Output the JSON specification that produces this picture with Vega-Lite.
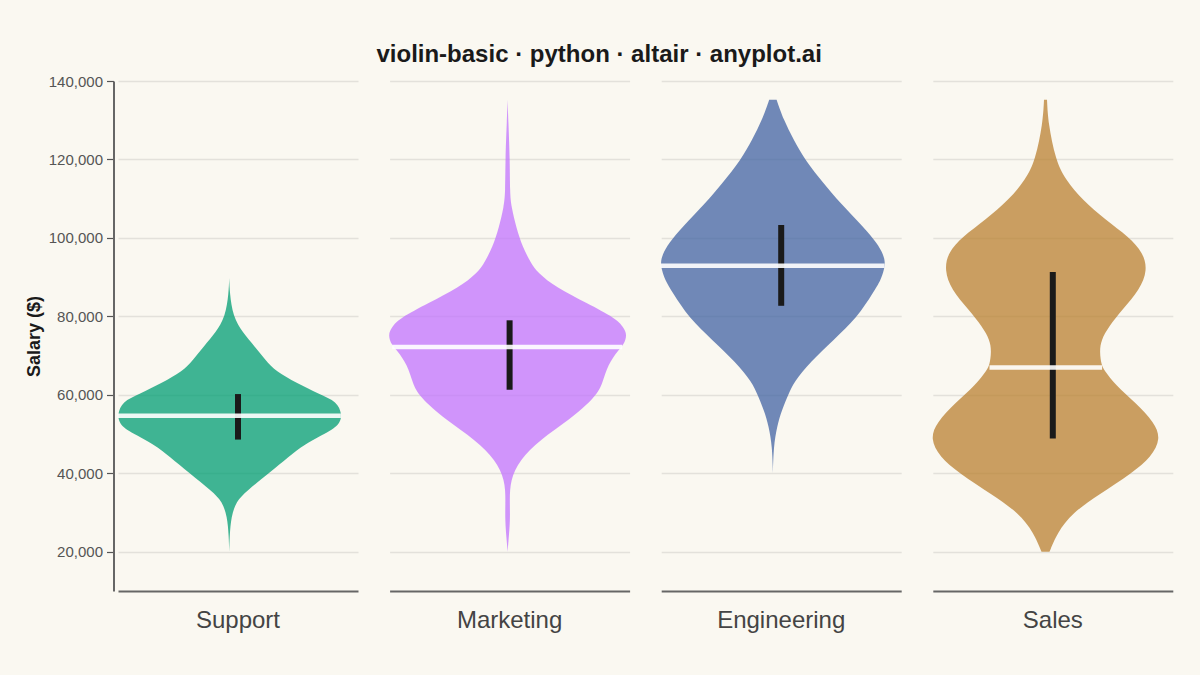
{
  "$schema": "https://vega.github.io/schema/vega-lite/v6.json",
  "background": "#FAF8F1",
  "padding": {"left": 25, "right": 26.5, "top": 43, "bottom": 43},
  "title": {
    "text": "violin-basic · python · altair · anyplot.ai",
    "fontSize": 24,
    "fontWeight": "bold",
    "font": "Liberation Sans",
    "color": "#1A1A1A",
    "anchor": "middle",
    "frame": "bounds",
    "offset": 7
  },
  "config": {
    "font": "Liberation Sans",
    "view": {"stroke": null},
    "axisY": {
      "labelFontSize": 15,
      "labelColor": "#555555",
      "labelPadding": 4,
      "titleFontSize": 18,
      "titleFontWeight": "bold",
      "titleColor": "#1A1A1A",
      "titlePadding": 4.8,
      "domainColor": "#666666",
      "domainWidth": 2,
      "tickColor": "#555555",
      "tickSize": 7,
      "tickWidth": 1.2,
      "grid": true,
      "gridColor": "#1A1A1A",
      "gridOpacity": 0.1,
      "gridWidth": 1.5
    },
    "axisX": {
      "labels": false,
      "ticks": false,
      "grid": false,
      "domain": true,
      "domainColor": "#666666",
      "domainWidth": 2
    }
  },
  "data": {
    "values": [
      {"kind": "violin", "department": "Support", "salary": 20000, "low": -8.8, "high": -8.8},
      {"kind": "violin", "department": "Support", "salary": 24000, "low": -9.2, "high": -8.4},
      {"kind": "violin", "department": "Support", "salary": 29000, "low": -10.8, "high": -6.8},
      {"kind": "violin", "department": "Support", "salary": 32800, "low": -15.8, "high": -1.8},
      {"kind": "violin", "department": "Support", "salary": 35400, "low": -25.8, "high": 8.2},
      {"kind": "violin", "department": "Support", "salary": 40100, "low": -48.8, "high": 31.2},
      {"kind": "violin", "department": "Support", "salary": 44300, "low": -68.8, "high": 51.2},
      {"kind": "violin", "department": "Support", "salary": 47300, "low": -82.8, "high": 65.2},
      {"kind": "violin", "department": "Support", "salary": 51100, "low": -112.8, "high": 95.2},
      {"kind": "violin", "department": "Support", "salary": 53000, "low": -118.8, "high": 102.2},
      {"kind": "violin", "department": "Support", "salary": 55000, "low": -120.5, "high": 103.9},
      {"kind": "violin", "department": "Support", "salary": 58300, "low": -115.8, "high": 99.2},
      {"kind": "violin", "department": "Support", "salary": 60200, "low": -98.8, "high": 81.2},
      {"kind": "violin", "department": "Support", "salary": 63100, "low": -75.8, "high": 58.2},
      {"kind": "violin", "department": "Support", "salary": 65900, "low": -55.8, "high": 38.2},
      {"kind": "violin", "department": "Support", "salary": 68900, "low": -44.8, "high": 27.2},
      {"kind": "violin", "department": "Support", "salary": 72500, "low": -33.8, "high": 16.2},
      {"kind": "violin", "department": "Support", "salary": 75800, "low": -22.5, "high": 4.9},
      {"kind": "violin", "department": "Support", "salary": 80000, "low": -12.5, "high": -5.1},
      {"kind": "violin", "department": "Support", "salary": 86000, "low": -9.3, "high": -8.3},
      {"kind": "violin", "department": "Support", "salary": 89800, "low": -8.8, "high": -8.8},

      {"kind": "violin", "department": "Marketing", "salary": 20000, "low": -2, "high": -2},
      {"kind": "violin", "department": "Marketing", "salary": 22300, "low": -2.7, "high": -1.3},
      {"kind": "violin", "department": "Marketing", "salary": 28150, "low": -4.7, "high": 0.7},
      {"kind": "violin", "department": "Marketing", "salary": 33200, "low": -4, "high": 0},
      {"kind": "violin", "department": "Marketing", "salary": 38300, "low": -4.7, "high": 0.7},
      {"kind": "violin", "department": "Marketing", "salary": 43400, "low": -14, "high": 10},
      {"kind": "violin", "department": "Marketing", "salary": 48500, "low": -34, "high": 30},
      {"kind": "violin", "department": "Marketing", "salary": 53600, "low": -64, "high": 60},
      {"kind": "violin", "department": "Marketing", "salary": 59600, "low": -90.7, "high": 86.7},
      {"kind": "violin", "department": "Marketing", "salary": 63000, "low": -97, "high": 93},
      {"kind": "violin", "department": "Marketing", "salary": 67600, "low": -102, "high": 98},
      {"kind": "violin", "department": "Marketing", "salary": 71500, "low": -113, "high": 109},
      {"kind": "violin", "department": "Marketing", "salary": 72700, "low": -118, "high": 114},
      {"kind": "violin", "department": "Marketing", "salary": 75300, "low": -121.7, "high": 117.7},
      {"kind": "violin", "department": "Marketing", "salary": 77300, "low": -117.7, "high": 113.7},
      {"kind": "violin", "department": "Marketing", "salary": 79400, "low": -110.7, "high": 106.7},
      {"kind": "violin", "department": "Marketing", "salary": 83400, "low": -81, "high": 77},
      {"kind": "violin", "department": "Marketing", "salary": 87300, "low": -51, "high": 47},
      {"kind": "violin", "department": "Marketing", "salary": 91100, "low": -32, "high": 28},
      {"kind": "violin", "department": "Marketing", "salary": 93900, "low": -24.7, "high": 20.7},
      {"kind": "violin", "department": "Marketing", "salary": 97700, "low": -17, "high": 13},
      {"kind": "violin", "department": "Marketing", "salary": 102600, "low": -10.7, "high": 6.7},
      {"kind": "violin", "department": "Marketing", "salary": 108000, "low": -5.7, "high": 1.7},
      {"kind": "violin", "department": "Marketing", "salary": 111500, "low": -4.3, "high": 0.3},
      {"kind": "violin", "department": "Marketing", "salary": 119900, "low": -4.3, "high": 0.3},
      {"kind": "violin", "department": "Marketing", "salary": 130100, "low": -2.7, "high": -1.3},
      {"kind": "violin", "department": "Marketing", "salary": 135200, "low": -2, "high": -2},

      {"kind": "violin", "department": "Engineering", "salary": 40100, "low": -8.3, "high": -8.3},
      {"kind": "violin", "department": "Engineering", "salary": 46800, "low": -9, "high": -7.6},
      {"kind": "violin", "department": "Engineering", "salary": 51900, "low": -12.3, "high": -4.3},
      {"kind": "violin", "department": "Engineering", "salary": 56200, "low": -17.3, "high": 0.7},
      {"kind": "violin", "department": "Engineering", "salary": 60200, "low": -24, "high": 7.4},
      {"kind": "violin", "department": "Engineering", "salary": 63100, "low": -29, "high": 12.4},
      {"kind": "violin", "department": "Engineering", "salary": 68400, "low": -45.6, "high": 29},
      {"kind": "violin", "department": "Engineering", "salary": 74000, "low": -69, "high": 52.4},
      {"kind": "violin", "department": "Engineering", "salary": 79600, "low": -92.3, "high": 75.7},
      {"kind": "violin", "department": "Engineering", "salary": 86200, "low": -109, "high": 92.4},
      {"kind": "violin", "department": "Engineering", "salary": 89300, "low": -116.3, "high": 99.7},
      {"kind": "violin", "department": "Engineering", "salary": 91800, "low": -119.3, "high": 102.7},
      {"kind": "violin", "department": "Engineering", "salary": 93600, "low": -120.6, "high": 104},
      {"kind": "violin", "department": "Engineering", "salary": 95700, "low": -119, "high": 102.4},
      {"kind": "violin", "department": "Engineering", "salary": 98700, "low": -112.3, "high": 95.7},
      {"kind": "violin", "department": "Engineering", "salary": 102800, "low": -99, "high": 82.4},
      {"kind": "violin", "department": "Engineering", "salary": 108900, "low": -75.6, "high": 59},
      {"kind": "violin", "department": "Engineering", "salary": 113900, "low": -59, "high": 42.4},
      {"kind": "violin", "department": "Engineering", "salary": 119900, "low": -40.3, "high": 23.7},
      {"kind": "violin", "department": "Engineering", "salary": 125000, "low": -29, "high": 12.4},
      {"kind": "violin", "department": "Engineering", "salary": 130100, "low": -19, "high": 2.4},
      {"kind": "violin", "department": "Engineering", "salary": 135200, "low": -12, "high": -4.6},

      {"kind": "violin", "department": "Sales", "salary": 20000, "low": -11.3, "high": -3.3},
      {"kind": "violin", "department": "Sales", "salary": 24800, "low": -19, "high": 4.4},
      {"kind": "violin", "department": "Sales", "salary": 29900, "low": -34, "high": 19.4},
      {"kind": "violin", "department": "Sales", "salary": 34500, "low": -60.3, "high": 45.7},
      {"kind": "violin", "department": "Sales", "salary": 40100, "low": -94, "high": 79.4},
      {"kind": "violin", "department": "Sales", "salary": 44200, "low": -113.3, "high": 98.7},
      {"kind": "violin", "department": "Sales", "salary": 48800, "low": -122.6, "high": 108},
      {"kind": "violin", "department": "Sales", "salary": 52900, "low": -116.3, "high": 101.7},
      {"kind": "violin", "department": "Sales", "salary": 58000, "low": -97.3, "high": 82.7},
      {"kind": "violin", "department": "Sales", "salary": 62500, "low": -77.3, "high": 62.7},
      {"kind": "violin", "department": "Sales", "salary": 66400, "low": -65.6, "high": 51},
      {"kind": "violin", "department": "Sales", "salary": 67600, "low": -63.3, "high": 48.7},
      {"kind": "violin", "department": "Sales", "salary": 71000, "low": -61.3, "high": 46.7},
      {"kind": "violin", "department": "Sales", "salary": 74000, "low": -63, "high": 48.4},
      {"kind": "violin", "department": "Sales", "salary": 77300, "low": -70.3, "high": 55.7},
      {"kind": "violin", "department": "Sales", "salary": 81700, "low": -84, "high": 69.4},
      {"kind": "violin", "department": "Sales", "salary": 86800, "low": -101.6, "high": 87},
      {"kind": "violin", "department": "Sales", "salary": 91800, "low": -108.3, "high": 94.7},
      {"kind": "violin", "department": "Sales", "salary": 96200, "low": -105, "high": 90.4},
      {"kind": "violin", "department": "Sales", "salary": 100300, "low": -90.3, "high": 75.7},
      {"kind": "violin", "department": "Sales", "salary": 104600, "low": -67.3, "high": 52.7},
      {"kind": "violin", "department": "Sales", "salary": 109700, "low": -44, "high": 29.4},
      {"kind": "violin", "department": "Sales", "salary": 114800, "low": -27.3, "high": 12.7},
      {"kind": "violin", "department": "Sales", "salary": 119900, "low": -17.3, "high": 2.7},
      {"kind": "violin", "department": "Sales", "salary": 129300, "low": -10, "high": -4.6},
      {"kind": "violin", "department": "Sales", "salary": 135200, "low": -8.8, "high": -5.8},

      {"kind": "summary", "department": "Support", "q1": 48600, "median": 54700, "q3": 60200, "low": -120.5, "high": 102.9},
      {"kind": "summary", "department": "Marketing", "q1": 61300, "median": 72200, "q3": 79000, "low": -117.4, "high": 112.6},
      {"kind": "summary", "department": "Engineering", "q1": 82700, "median": 92900, "q3": 103300, "low": -120.6, "high": 103.4},
      {"kind": "summary", "department": "Sales", "q1": 48900, "median": 67000, "q3": 91300, "low": -63.3, "high": 49.3}
    ]
  },
  "facet": {
    "column": {
      "field": "department",
      "type": "nominal",
      "sort": ["Support", "Marketing", "Engineering", "Sales"],
      "header": {
        "title": null,
        "labelOrient": "bottom",
        "labelFontSize": 24,
        "labelColor": "#444444",
        "labelPadding": 18
      }
    }
  },
  "spacing": 28.6,
  "spec": {
    "width": 240,
    "height": 510,
    "layer": [
      {
        "transform": [{"filter": "datum.kind === 'violin'"}],
        "mark": {"type": "area", "orient": "horizontal", "interpolate": "basis", "opacity": 0.75},
        "encoding": {
          "y": {
            "field": "salary",
            "type": "quantitative",
            "title": "Salary ($)",
            "scale": {"domain": [10000, 140000], "nice": false, "zero": false},
            "axis": {
              "values": [20000, 40000, 60000, 80000, 100000, 120000, 140000],
              "format": ",.0f",
              "offset": 1.5
            }
          },
          "x": {
            "field": "low",
            "type": "quantitative",
            "title": null,
            "scale": {"domain": [-120, 120], "nice": false, "zero": false}
          },
          "x2": {"field": "high"},
          "color": {
            "field": "department",
            "type": "nominal",
            "legend": null,
            "scale": {
              "domain": ["Support", "Marketing", "Engineering", "Sales"],
              "range": ["#009E73", "#C273FD", "#4263A3", "#B98030"]
            }
          }
        }
      },
      {
        "transform": [{"filter": "datum.kind === 'summary'"}],
        "mark": {"type": "rule", "strokeWidth": 6, "color": "#1A1A1A"},
        "encoding": {
          "x": {"datum": 0, "type": "quantitative", "title": null},
          "y": {
            "field": "q1",
            "type": "quantitative",
            "title": "Salary ($)",
            "axis": {
              "values": [20000, 40000, 60000, 80000, 100000, 120000, 140000],
              "format": ",.0f",
              "offset": 1.5
            }
          },
          "y2": {"field": "q3"}
        }
      },
      {
        "transform": [{"filter": "datum.kind === 'summary'"}],
        "mark": {"type": "rule", "strokeWidth": 4.5, "color": "#FFFFFF", "opacity": 0.9},
        "encoding": {
          "x": {"field": "low", "type": "quantitative", "title": null},
          "x2": {"field": "high"},
          "y": {
            "field": "median",
            "type": "quantitative",
            "title": "Salary ($)",
            "axis": {
              "values": [20000, 40000, 60000, 80000, 100000, 120000, 140000],
              "format": ",.0f",
              "offset": 1.5
            }
          }
        }
      }
    ]
  }
}
